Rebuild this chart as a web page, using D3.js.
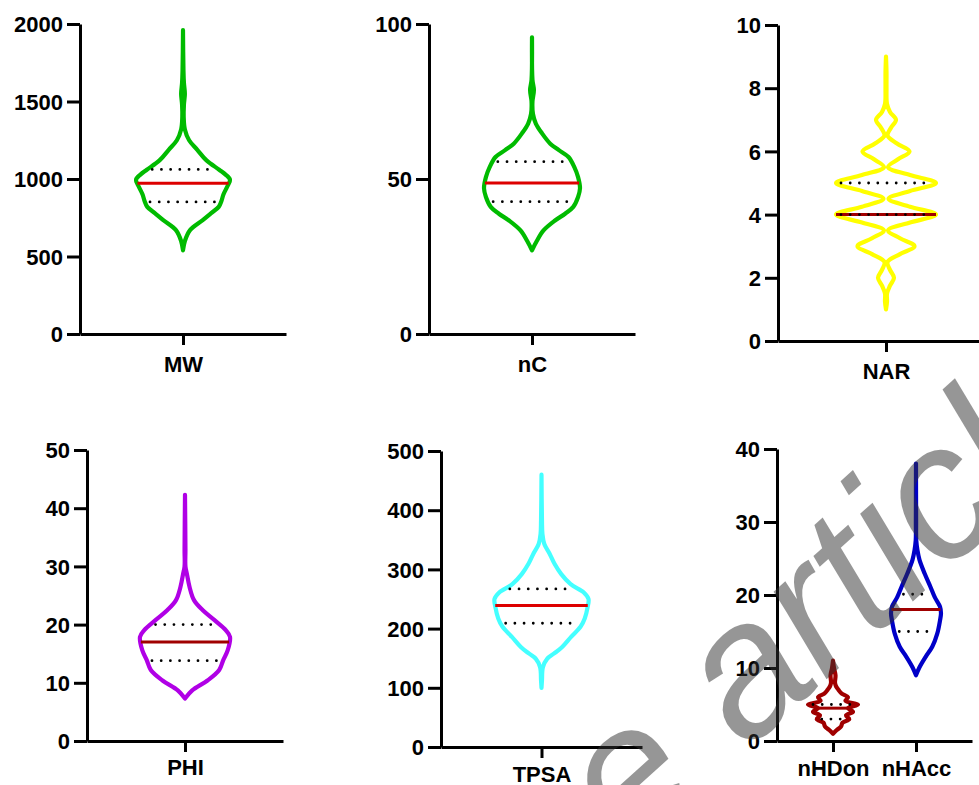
<!DOCTYPE html>
<html>
<head>
<meta charset="utf-8">
<script src="https://cdn.jsdelivr.net/npm/d3@7"></script>
<style>
  body { margin: 0; background: #fff; }
  svg { display: block; }
  .lbl { font-family: "Liberation Sans", Arial, sans-serif; font-weight: bold; }
</style>
</head>
<body>
<svg width="979" height="785"></svg>
<script>
// ---- data ----
var categories = ["MW", "nC", "NAR", "PHI", "TPSA", "nHDon", "nHAcc"];
var medians = [972, 48.7, 4, 17, 239, 4.5, 18];
var q1s = [852, 42.7, 4, 13.8, 209, 3, 15];
var q3s = [1062, 55.6, 5, 20, 267, 5, 20.1];

// violin outlines: [value, relative half width]
var mwShape = [[540,0],[600,0.04],[670,0.15],[735,0.42],[780,0.6],[820,0.76],[860,0.82],[900,0.86],
  [950,0.94],[995,1],[1030,0.9],[1060,0.77],[1120,0.5],[1190,0.3],[1250,0.13],[1320,0.04],
  [1400,0.015],[1480,0.02],[1550,0.04],[1620,0.02],[1700,0.01],[1960,0]];
var ncShape = [[27,0],[30,0.1],[33.4,0.24],[36.6,0.48],[38.8,0.69],[41,0.86],[44.2,0.96],[47,1],
  [50.6,0.96],[53.9,0.88],[57.1,0.76],[59.3,0.56],[61.4,0.38],[64.7,0.21],[67.9,0.08],[71,0.02],
  [75,0.01],[78.7,0.04],[82,0.01],[95.7,0]];
var narShape = [[1,0],[1.25,0.02],[1.5,0.02],[1.75,0.08],[2,0.16],[2.25,0.08],[2.5,0.03],[2.75,0.28],
  [3,0.57],[3.25,0.28],[3.5,0.04],[3.75,0.48],[4,1],[4.25,0.48],[4.5,0.05],[4.75,0.48],[5,1],
  [5.25,0.48],[5.5,0.04],[5.75,0.24],[6,0.47],[6.25,0.22],[6.5,0.03],[6.75,0.1],[7,0.2],
  [7.25,0.08],[7.5,0.02],[8,0.01],[8.5,0.01],[9,0]];
var phiShape = [[7.3,0],[8.7,0.16],[10.4,0.5],[12.2,0.76],[13.9,0.85],[15.6,0.95],[17.9,1],[19,0.91],
  [20.8,0.65],[22.5,0.39],[24.2,0.2],[26.5,0.1],[28.8,0.04],[30,0.01],[33,0.01],[42.3,0]];
var tpsaShape = [[100,0],[112,0.01],[135,0.03],[149,0.12],[158,0.27],[169,0.44],[186,0.63],[203,0.83],
  [217,0.92],[236,0.98],[250,1],[261,0.9],[275,0.62],[292,0.42],[309,0.28],[327,0.17],[343,0.06],
  [360,0.02],[383,0.01],[460,0]];
var hdonShape = [[1,0],[1.5,0.15],[2,0.32],[2.5,0.38],[3,0.65],[3.5,0.52],[4,0.8],[4.5,0.6],[5,1],
  [5.5,0.5],[6,0.6],[6.5,0.35],[7,0.22],[7.5,0.12],[8,0.08],[9,0.1],[10,0.04],[11,0]];
var haccShape = [[9,0],[10.1,0.14],[11.5,0.38],[12.9,0.65],[14.7,0.85],[16.5,0.96],[17.5,1],[18.4,0.96],
  [19.7,0.75],[21.1,0.58],[22.9,0.35],[24.8,0.14],[26.1,0.06],[27.5,0.01],[30,0.005],[38,0]];

var mwTicks = [0, 500, 1000, 1500, 2000];
var ncTicks = [0, 50, 100];
var narTicks = [0, 2, 4, 6, 8, 10];
var phiTicks = [0, 10, 20, 30, 40, 50];
var tpsaTicks = [0, 100, 200, 300, 400, 500];
var hTicks = [0, 10, 20, 30, 40];

// ---- layout ----
var shapes = [mwShape, ncShape, narShape, phiShape, tpsaShape, hdonShape, haccShape];
var lineColors = ["#00bb00", "#00bb00", "#ffff00", "#b000e6", "#44ffff", "#a00000", "#0000c8"];
var medColors = ["#dd0000", "#dd0000", "#a00000", "#a00000", "#dd0000", "#a00000", "#a00000"];

var panels = [
  { cats: [0], ticks: mwTicks, x0: 80, x1: 286, yTop: 24, yBot: 334, half: 47, lab: 38 },
  { cats: [1], ticks: ncTicks, x0: 429, x1: 635, yTop: 24, yBot: 334, half: 48, lab: 38 },
  { cats: [2], ticks: narTicks, x0: 778, x1: 994, yTop: 25, yBot: 341, half: 50, lab: 38 },
  { cats: [3], ticks: phiTicks, x0: 87, x1: 283, yTop: 450, yBot: 741, half: 45, lab: 34 },
  { cats: [4], ticks: tpsaTicks, x0: 441, x1: 642, yTop: 451, yBot: 747, half: 47, lab: 35 },
  { cats: [5, 6], ticks: hTicks, x0: 777, x1: 972, yTop: 449, yBot: 741, half: 25, lab: 35 }
];

var svg = d3.select("svg");
var fmt = d3.format("d");

// half width at a given value, linear between outline points
function widthAt(shape, v) {
  for (var i = 1; i < shape.length; i++) {
    if (v <= shape[i][0]) {
      var a = shape[i - 1], b = shape[i];
      var t = (v - a[0]) / (b[0] - a[0]);
      return a[1] + t * (b[1] - a[1]);
    }
  }
  return 0;
}

panels.forEach(function(p) {
  var names = p.cats.map(function(i) { return categories[i]; });
  var x = d3.scalePoint().domain(names).range([0, p.x1 - p.x0])
    .padding(names.length > 1 ? 0.675 : 0.5);
  var y = d3.scaleLinear().domain([p.ticks[0], p.ticks[p.ticks.length - 1]])
    .range([p.yBot - p.yTop, 0]);

  var g = svg.append("g").attr("transform", "translate(" + p.x0 + "," + p.yTop + ")");

  // violins
  p.cats.forEach(function(ci) {
    var cx = x(categories[ci]);
    var shape = shapes[ci];
    var area = d3.area()
      .y(function(d) { return y(d[0]); })
      .x0(function(d) { return cx - p.half * d[1]; })
      .x1(function(d) { return cx + p.half * d[1]; })
      .curve(d3.curveCatmullRom);

    g.append("path")
      .datum(shape)
      .attr("d", area)
      .attr("fill", "none")
      .attr("stroke", lineColors[ci])
      .attr("stroke-width", 4.2)
      .attr("stroke-linejoin", "round")
      .attr("stroke-linecap", "round");

    var mw = p.half * widthAt(shape, medians[ci]);
    g.append("line")
      .attr("x1", cx - mw).attr("x2", cx + mw)
      .attr("y1", y(medians[ci])).attr("y2", y(medians[ci]))
      .attr("stroke", medColors[ci])
      .attr("stroke-width", 3);

    [q1s[ci], q3s[ci]].forEach(function(q) {
      var qw = p.half * widthAt(shape, q) - 5;
      if (qw < 3) return;
      g.append("line")
        .attr("x1", cx - qw).attr("x2", cx + qw)
        .attr("y1", y(q)).attr("y2", y(q))
        .attr("stroke", "#000")
        .attr("stroke-width", 2.8)
        .attr("stroke-linecap", "round")
        .attr("stroke-dasharray", "0,9.2");
    });
  });

  // y axis
  var ya = g.append("g")
    .call(d3.axisLeft(y).tickValues(p.ticks).tickFormat(fmt)
      .tickSizeInner(13).tickSizeOuter(0).tickPadding(4));
  ya.select(".domain").attr("stroke-width", 3);
  ya.selectAll(".tick line").attr("stroke-width", 3);
  ya.selectAll(".tick text")
    .attr("class", "lbl")
    .attr("font-size", 22).attr("fill", "#000")
    .attr("dy", "0.35em");

  // x axis
  var xa = g.append("g")
    .attr("transform", "translate(0," + (p.yBot - p.yTop) + ")")
    .call(d3.axisBottom(x).tickSizeInner(11).tickSizeOuter(0));
  xa.select(".domain").attr("stroke-width", 3);
  xa.selectAll(".tick line").attr("stroke-width", 3);
  xa.selectAll(".tick text")
    .attr("class", "lbl")
    .attr("font-size", 22).attr("fill", "#000")
    .attr("y", p.lab).attr("dy", null);
});

// watermark over the lower right corner
svg.append("text")
  .attr("transform", "translate(628,858) rotate(-42)")
  .attr("font-family", "Liberation Sans, Arial, sans-serif")
  .attr("font-size", 190)
  .attr("font-style", "italic")
  .attr("font-weight", "normal")
  .attr("fill", "#303030")
  .attr("opacity", 0.5)
  .text("e article");
</script>
</body>
</html>
